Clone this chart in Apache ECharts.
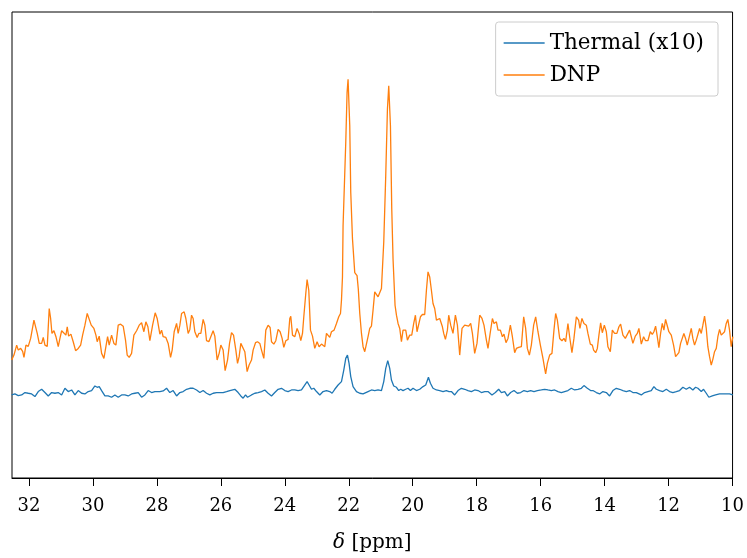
<!DOCTYPE html>
<html><head><meta charset="utf-8">
<script src="https://cdn.jsdelivr.net/npm/echarts@6/dist/echarts.min.js"></script>
<style>html,body{margin:0;padding:0;background:#fff}#c{width:747px;height:558px}</style>
</head><body><div id="c"></div>
<script>
// Chemical shift (ppm) and intensity (a.u.)
const dnpPpm = [32.54,32.469,32.384,32.334,32.259,32.197,32.156,32.094,32.022,31.947,31.897,31.844,31.803,31.741,31.678,31.603,31.553,31.5,31.428,31.366,31.322,31.281,31.219,31.156,31.084,31.031,30.978,30.928,30.844,30.803,30.759,30.688,30.616,30.541,30.459,30.384,30.322,30.25,30.178,30.116,30.053,29.969,29.906,29.866,29.803,29.728,29.656,29.594,29.541,29.491,29.416,29.344,29.281,29.209,29.134,29.053,28.978,28.928,28.866,28.791,28.719,28.634,28.553,28.478,28.406,28.344,28.281,28.219,28.134,28.053,27.991,27.906,27.853,27.803,27.719,27.647,27.572,27.522,27.459,27.384,27.334,27.281,27.228,27.147,27.094,27.022,26.969,26.916,26.866,26.813,26.741,26.688,26.625,26.553,26.5,26.447,26.375,26.313,26.241,26.188,26.116,26.053,26.0,25.928,25.866,25.791,25.728,25.666,25.603,25.531,25.478,25.428,25.375,25.313,25.25,25.178,25.116,25.041,24.991,24.916,24.853,24.781,24.728,24.656,24.594,24.522,24.459,24.416,24.344,24.281,24.209,24.147,24.084,24.031,23.969,23.897,23.844,23.813,23.759,23.688,23.616,23.553,23.5,23.447,23.406,23.344,23.303,23.25,23.197,23.134,23.063,22.991,22.928,22.853,22.803,22.75,22.697,22.647,22.594,22.541,22.459,22.384,22.313,22.259,22.228,22.197,22.178,22.094,22.053,22.022,21.969,21.938,21.884,21.813,21.741,21.703,21.656,21.603,21.553,21.5,21.447,21.397,21.344,21.291,21.241,21.188,21.134,21.084,21.031,20.978,20.906,20.844,20.791,20.75,20.697,20.656,20.616,20.553,20.509,20.459,20.406,20.353,20.303,20.219,20.166,20.094,20.031,19.969,19.916,19.866,19.813,19.759,19.697,19.625,19.572,19.522,19.469,19.416,19.366,19.313,19.259,19.209,19.156,19.072,19.031,18.978,18.916,18.875,18.813,18.741,18.666,18.603,18.531,18.459,18.375,18.322,18.25,18.188,18.134,18.063,17.991,17.906,17.834,17.772,17.697,17.647,17.572,17.509,17.459,17.384,17.334,17.259,17.197,17.147,17.084,17.022,16.947,16.884,16.813,16.759,16.688,16.603,16.531,16.469,16.416,16.353,16.291,16.219,16.156,16.084,16.009,15.928,15.875,15.844,15.791,15.719,15.647,15.584,15.531,15.478,15.406,15.334,15.272,15.219,15.147,15.094,15.022,14.959,14.884,14.813,14.772,14.709,14.647,14.572,14.522,14.447,14.384,14.344,14.281,14.228,14.178,14.125,14.072,14.009,13.947,13.897,13.822,13.759,13.688,13.616,13.553,13.5,13.428,13.353,13.291,13.219,13.166,13.116,13.041,12.978,12.928,12.853,12.781,12.719,12.647,12.572,12.509,12.459,12.406,12.353,12.303,12.25,12.197,12.147,12.094,12.041,11.991,11.916,11.844,11.781,11.728,11.678,11.625,11.572,11.522,11.469,11.416,11.366,11.291,11.241,11.188,11.134,11.084,11.031,10.978,10.928,10.875,10.822,10.772,10.719,10.666,10.616,10.563,10.509,10.459,10.406,10.353,10.303,10.25,10.197,10.147,10.094,10.041,9.991];
const dnpInt = [33.3,38.3,48.3,43.3,45,42,36,48.3,47,55,55,73.3,74.3,60,50,50,56,48.3,47,85,75,60,62.7,56.7,46.7,55,62.7,62.7,58.3,66.7,57.3,59.3,51.7,42.7,45,48.3,58.3,68.3,80,80,68.3,65,58.3,51.7,57.3,40,35,36.7,56.7,48.3,58.3,50,48.3,68.3,69.3,67.3,52.7,38.3,36,40,58.3,62.7,68.3,70.7,61.7,71.7,66.7,52.7,68.3,80.7,75,59.3,63.3,56.7,56,50,36,43.3,61.7,70,60,68.3,80,81.7,75,60,64,78.3,75,61.7,56,60,60,74,68.3,52.7,51.7,50.7,62.7,57.3,33.3,40,48.3,43.3,22.7,33.3,50,60.7,58.3,43.3,30,36.7,50,50.7,41.7,21.7,28.3,33.3,43.3,50.7,51.7,50,43.3,35,63.3,68.3,66,51.7,49.3,52.7,64,61.7,55,46,52.7,54,75,77.3,58.3,56.7,65,60,52.7,60,76.7,100,114,103.3,63.3,57.3,45,51.7,46.7,49.3,50,46.7,60,58.3,56,61.7,63.3,70,76.7,80,93.3,116.7,168.3,251.7,301.7,315,268.3,201.7,155,121,118,105,80,60,46.7,41.7,41.7,56.7,65,67.3,83.3,101.7,103.3,96.7,95,105,151.7,218.3,285,308.3,268.3,185,135,88.3,78.3,70,65,51.7,63.3,63.3,53.3,58.3,58.3,70,78.3,61.7,60,76.7,79,79,103.3,121.7,116.7,103.3,90,85,73.3,71.7,75,66.7,60,54,63.3,78.3,68.3,60,78.3,68.3,38.3,65,68.3,69.3,67.3,70,60,40,50,78.3,75,68.3,53.3,45,61.7,75,70,71.7,63.3,63.3,56.7,59.3,50.7,55,68.3,56.7,40.7,45,46,46.7,76.7,65,45,38.3,48.3,68.3,76.7,61.7,48.3,35,25,19.3,30,38.3,40,63.3,80,73.3,55,52.7,55,51.7,70,56.7,40.7,55,76.7,73.3,65,75,70,68.3,60,49.3,48.3,43.3,40.7,45,58.3,70.7,60.7,68.3,61.7,46.7,41.7,63.3,60,60,66.7,69.3,58.3,55,55,63.3,56.7,50,57.3,60,65,49.3,56.7,52.7,52.7,61.7,59,61.7,67.3,56.7,45.7,60,70,63.3,74,75,61.7,58.3,48.3,36.7,35,40.7,50,49.3,60,55,48.3,48.3,65,55,48.3,53.3,51.7,65,60,68.3,77.3,65,46.7,36.7,28.3,34,41.7,45,56.7,64,58.3,56.7,61.7,70,74,63.3,46.7,56.7];
const thermalPpm = [32.541,32.438,32.334,32.228,32.125,32.022,31.916,31.813,31.709,31.603,31.5,31.397,31.291,31.188,31.084,30.978,30.875,30.772,30.666,30.563,30.459,30.353,30.25,30.147,30.041,29.938,29.866,29.803,29.728,29.625,29.522,29.416,29.313,29.209,29.103,29.0,28.897,28.791,28.688,28.584,28.478,28.375,28.272,28.166,28.063,27.906,27.803,27.697,27.594,27.491,27.384,27.281,27.178,27.072,26.969,26.866,26.759,26.656,26.553,26.447,26.344,26.241,26.134,26.031,25.928,25.822,25.719,25.563,25.459,25.375,25.303,25.228,25.166,25.041,24.938,24.834,24.728,24.625,24.522,24.416,24.313,24.209,24.103,24.0,23.897,23.791,23.688,23.584,23.478,23.428,23.303,23.241,23.166,23.094,23.009,22.906,22.803,22.697,22.594,22.522,22.438,22.334,22.228,22.156,22.094,22.041,21.991,21.938,21.866,21.759,21.656,21.553,21.5,21.397,21.291,21.188,21.084,20.978,20.906,20.844,20.781,20.719,20.666,20.594,20.509,20.438,20.375,20.303,20.219,20.147,20.072,19.991,19.884,19.781,19.678,19.594,19.509,19.447,19.366,19.259,19.156,19.053,18.947,18.866,18.791,18.688,18.584,18.478,18.375,18.272,18.166,18.063,17.959,17.853,17.75,17.647,17.522,17.416,17.313,17.228,17.125,17.041,16.938,16.834,16.728,16.625,16.522,16.416,16.313,16.209,16.103,15.978,15.875,15.772,15.666,15.563,15.459,15.353,15.25,15.147,15.041,14.938,14.834,14.728,14.647,14.541,14.438,14.366,14.259,14.156,14.053,13.947,13.844,13.741,13.634,13.531,13.428,13.322,13.219,13.116,13.009,12.853,12.75,12.647,12.541,12.459,12.384,12.281,12.178,12.072,11.969,11.866,11.759,11.656,11.553,11.447,11.344,11.241,11.156,11.084,10.978,10.906,10.822,10.741,10.634,10.531,10.406,10.303,10.197,10.094,9.991];
const thermalInt = [-1.7,-0.7,-2.3,-1.7,0.7,0,-0.7,-3.3,1.7,4,0.7,-2.7,0.7,0,0.7,-1.7,5,1.7,3.3,-1.7,2.7,0,-0.7,1.7,2.7,7.3,6,6.7,2.7,-2.7,-2.7,-4,-1.7,-4,-1.7,-1.7,-2.7,-0.7,0,0.7,-4,-1.7,2.7,0.7,1.7,1.7,2.3,5,0.7,2.7,-2.7,0.7,1.7,4,5,5,3.3,0.7,2.7,0,-1.7,0,0.7,0.7,0.7,1.7,2.7,4,0.7,-2.7,-5,-1.7,-4,-1.7,0,0.7,1.7,3.3,0,-2.7,0.7,4,5,2.7,1.7,3.3,3.3,2.7,3.3,3.3,11.7,8.3,4,5,1.7,-1.7,1.7,2.7,1.7,0,4,8.3,11.7,23.3,35,38.3,30,16.7,6.7,1.7,0,-0.7,-2.7,1.7,3.3,2.7,3.3,2.7,11.7,25,32.7,25,13.3,7.3,6,2.7,4,2.7,4,5,2.7,5,2.7,4,6.7,8.3,16,10,5,3.3,2.7,1.7,2.7,1.7,1.7,-1.7,2.7,5,4,2.7,1.7,3.3,2.7,0.7,1.7,1.7,-1.7,0.7,4,0.7,1.7,-2.7,0.7,2.7,0,0.7,2.7,1.7,2.7,1.7,2.7,3.3,4,3.3,2.7,3.3,1.7,0.7,1.7,2.7,5,3.3,4,5,7.7,5,2.7,2.7,0.7,-0.7,1.7,0.7,-2.7,2.7,5,4,2.7,1.7,2.7,0.7,0.7,-1.7,0.7,1.7,2.7,6.7,4,2.7,1.7,4,1.7,0.7,1.7,2.7,6,4,6,3.3,6,5,1.7,4,0,-4,-2.7,-1.7,-0.7,-0.7,-0.7,-0.7,-1.7];
const xTicks = [10,12,14,16,18,20,22,24,26,28,30,32];
const seriesNames = ['Thermal (x10)','DNP'];

const zip = (a,b) => a.map((v,i)=>[v,b[i]]);
const chart = echarts.init(document.getElementById('c'));
const serif = 'DejaVu Serif';
chart.setOption({
  animation:false,
  color:['#1f77b4','#ff7f0e'],
  grid:{left:12,right:14,top:12,bottom:70,show:true,borderColor:'#000',borderWidth:1,backgroundColor:'transparent'},
  legend:{
    orient:'vertical', right:29, top:22,
    padding:[10,14,10,8],
    icon:'rect', itemWidth:41, itemHeight:1.3, itemGap:10,
    borderColor:'#cccccc', borderWidth:1, borderRadius:3, backgroundColor:'#fff',
    textStyle:{fontFamily:serif,fontSize:21.5,lineHeight:21,color:'#000'},
    data:seriesNames
  },
  xAxis:{
    type:'value', inverse:true, min:10, max:32.53,
    axisLine:{show:true,onZero:false,lineStyle:{color:'#000',width:1}},
    axisTick:{show:true,length:8,inside:false,lineStyle:{color:'#000'},customValues:xTicks},
    axisLabel:{fontFamily:serif,fontSize:18,color:'#000',margin:19,customValues:xTicks},
    splitLine:{show:false},
    name:'{i|δ} [ppm]', nameLocation:'middle', nameGap:55,
    nameTextStyle:{fontFamily:serif,fontSize:20,color:'#000',rich:{i:{fontFamily:serif,fontStyle:'italic',fontSize:20,color:'#000'}}}
  },
  yAxis:{type:'value',min:-85,max:382.4,show:false,splitLine:{show:false}},
  series:[
    {name:seriesNames[0],type:'line',data:zip(thermalPpm,thermalInt),symbol:'none',lineStyle:{width:1.3},z:3},
    {name:seriesNames[1],type:'line',data:zip(dnpPpm,dnpInt),symbol:'none',lineStyle:{width:1.3},z:2}
  ]
});
</script></body></html>
